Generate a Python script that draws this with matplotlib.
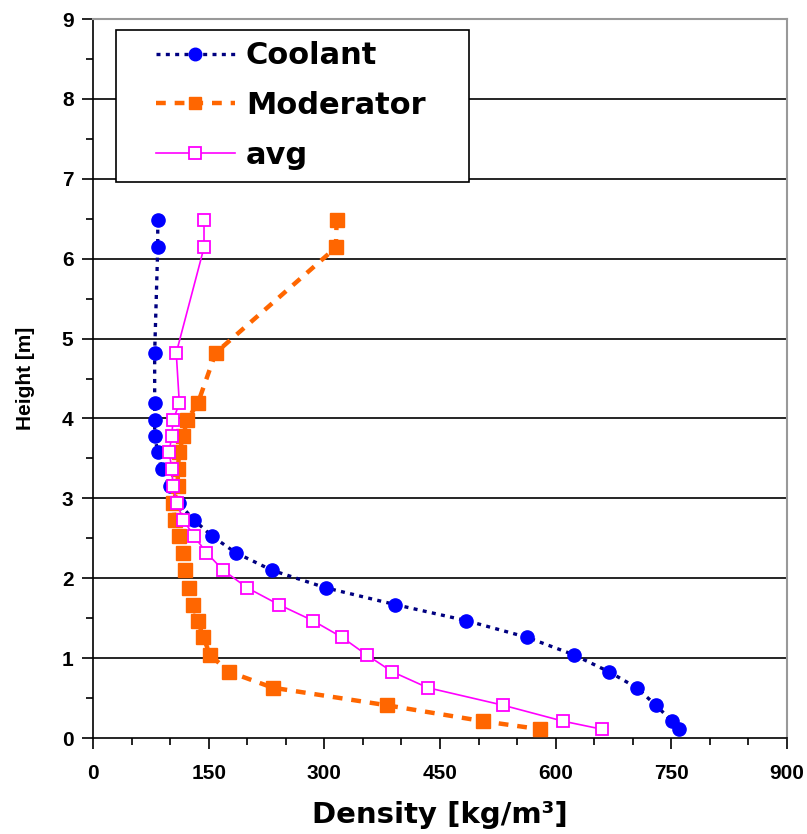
import matplotlib
matplotlib.use("Agg")
import matplotlib.pyplot as plt
from matplotlib.patches import Rectangle
from matplotlib.ticker import MultipleLocator

plt.rcParams['font.family'] = ['Liberation Sans', 'DejaVu Sans']

# --- veriler ---
height = [6.48, 6.14, 4.82, 4.19, 3.98, 3.78, 3.58, 3.37, 3.15, 2.94, 2.73, 2.53,
          2.32, 2.10, 1.88, 1.67, 1.47, 1.26, 1.04, 0.83, 0.63, 0.41, 0.21, 0.11]
coolant = [84, 84, 80, 80, 80, 80, 84, 89, 100, 111, 131, 154,
           185, 232, 302, 392, 484, 563, 624, 669, 705, 730, 751, 760]
moderator = [316, 315, 159, 136, 122, 117, 112, 110, 110, 104, 106, 111,
             117, 119, 124, 130, 136, 143, 152, 176, 233, 381, 506, 580]
avg = [144, 144, 108, 112, 104, 102, 99, 102, 104, 109, 117, 131,
       147, 169, 200, 241, 285, 323, 355, 388, 434, 532, 610, 660]

fig = plt.figure(figsize=(8.07, 8.34), dpi=100)
ax = fig.add_axes([0.1152, 0.1151, 0.8600, 0.8621])

# yatay ızgara çizgileri
for yy in range(1, 9):
    ax.axhline(yy, color='black', lw=1.2, zorder=1)

ax.plot(coolant, height, linestyle=(0, (1.2, 1.6)), color='#000080', lw=2.4,
        marker='o', markersize=9.5, markerfacecolor='#0000FF',
        markeredgecolor='#0000FF', label='Coolant', zorder=3)
ax.plot(moderator, height, linestyle=(0, (2.2, 2.0)), color='#FF6600', lw=3.2,
        marker='s', markersize=9.5, markerfacecolor='#FF6600',
        markeredgecolor='#FF6600', label='Moderator', zorder=3)
ax.plot(avg, height, linestyle='-', color='#FF00FF', lw=1.2,
        marker='s', markersize=9, markerfacecolor='white',
        markeredgecolor='#FF00FF', markeredgewidth=1.3, label='avg', zorder=4)

ax.set_xlim(0, 900)
ax.set_ylim(0, 9)
ax.xaxis.set_major_locator(MultipleLocator(150))
ax.xaxis.set_minor_locator(MultipleLocator(50))
ax.yaxis.set_major_locator(MultipleLocator(1))
ax.yaxis.set_minor_locator(MultipleLocator(0.5))

ax.tick_params(which='major', direction='out', length=8, width=1.2,
               labelsize=15, pad=6)
ax.tick_params(which='minor', direction='out', length=5, width=1.2)
ax.tick_params(axis='x', pad=11)
for lab in ax.get_xticklabels() + ax.get_yticklabels():
    lab.set_fontweight('bold')

for s in ['left', 'bottom']:
    ax.spines[s].set_color('black')
    ax.spines[s].set_linewidth(1.2)
for s in ['top', 'right']:
    ax.spines[s].set_color('#999999')
    ax.spines[s].set_linewidth(1.5)

ax.set_xlabel('Density [kg/m³]', fontsize=21, fontweight='bold', labelpad=13,
              family=['DejaVu Sans'])
ax.set_ylabel('Height [m]', fontsize=15, fontweight='bold', labelpad=19)

# lejant çerçevesi elle (yatay boşluk daha geniş)
ax.add_patch(Rectangle((0.0331, 0.7733), 0.5087, 0.2114, transform=ax.transAxes,
                       facecolor='white', edgecolor='black', lw=1.2, zorder=6))
leg = ax.legend(loc='upper left', bbox_to_anchor=(0.0908, 0.969),
                borderaxespad=0, borderpad=0, frameon=False,
                handlelength=2.58, handletextpad=0.36, labelspacing=0.68,
                markerscale=0.95,
                prop={'weight': 'bold', 'size': 22, 'family': 'DejaVu Sans'})
leg.set_zorder(7)

fig.savefig('out.png', dpi=100)
